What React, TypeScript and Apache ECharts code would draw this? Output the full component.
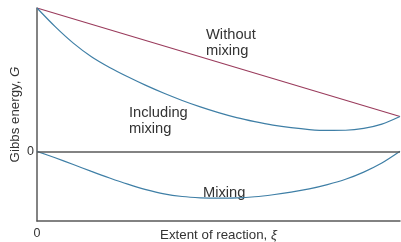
import React, { useEffect, useRef } from "react";
import * as echarts from "echarts";

const xi = [0, 0.05, 0.1, 0.15, 0.2, 0.25, 0.3, 0.35, 0.4, 0.45, 0.5, 0.55, 0.6, 0.65, 0.7, 0.75, 0.8, 0.85, 0.9, 0.95, 1];
const withoutXi = [0, 1];
const withoutMixing = [10, 2.43];
const includingMixing = [10, 8.7, 7.55, 6.6, 5.85, 5.2, 4.6, 4.05, 3.55, 3.1, 2.7, 2.35, 2.07, 1.83, 1.65, 1.52, 1.46, 1.47, 1.6, 1.9, 2.43];
const mixing = [0, -0.45, -0.92, -1.4, -1.86, -2.29, -2.67, -2.97, -3.15, -3.24, -3.27, -3.25, -3.17, -3.03, -2.85, -2.62, -2.32, -1.95, -1.45, -0.82, 0];
const yTickLabels = [0];
const xTickLabels = [0];

const FONT = "'Liberation Sans', Arial, sans-serif";
const BLUE = "#3f7fa6";
const MAROON = "#9a3b5c";
const AXIS = "#5a5a5a";
const TEXT = "#333333";
const NAME_SIZE = 13.3;

export default function App() {
  const ref = useRef<HTMLDivElement>(null);
  useEffect(() => {
    if (!ref.current) return;
    const chart = echarts.init(ref.current, null, { renderer: "svg" });
    const pairs = (xs: number[], ys: number[]) => xs.map((x, i) => [x, ys[i]]);
    const labelStyle = { fontFamily: FONT, fontSize: 14.7, lineHeight: 16, fill: TEXT };
    chart.setOption({
      animation: false,
      grid: { left: 37, right: 1, top: 8, bottom: 21, outerBoundsMode: "none", containLabel: false },
      xAxis: {
        type: "value",
        min: 0,
        max: 1,
        name: "Extent of reaction, {i|ξ}",
        nameLocation: "middle",
        nameGap: 7,
        nameMoveOverlap: false,
        nameTextStyle: {
          fontFamily: FONT,
          fontSize: NAME_SIZE,
          color: TEXT,
          verticalAlign: "top",
          rich: { i: { fontStyle: "italic", fontFamily: FONT, fontSize: NAME_SIZE, color: TEXT } },
        },
        axisLine: { show: true, onZero: false, lineStyle: { color: AXIS, width: 1.5 } },
        axisTick: { show: false },
        splitLine: { show: false },
        axisLabel: {
          customValues: xTickLabels,
          fontFamily: FONT,
          fontSize: 12.5,
          color: TEXT,
          margin: 5,
        },
      },
      yAxis: {
        type: "value",
        min: -4.86,
        max: 10,
        name: "Gibbs energy, {i|G}",
        nameLocation: "middle",
        nameGap: 16,
        nameMoveOverlap: false,
        nameTextStyle: {
          fontFamily: FONT,
          fontSize: NAME_SIZE,
          color: TEXT,
          rich: { i: { fontStyle: "italic", fontFamily: FONT, fontSize: NAME_SIZE, color: TEXT } },
        },
        axisLine: { show: true, onZero: false, lineStyle: { color: AXIS, width: 1.5 } },
        axisTick: { show: false },
        splitLine: { show: false },
        axisLabel: {
          customValues: yTickLabels,
          fontFamily: FONT,
          fontSize: 12.5,
          color: TEXT,
          margin: 3,
        },
      },
      series: [
        {
          type: "line",
          data: pairs(withoutXi, withoutMixing),
          showSymbol: false,
          lineStyle: { color: MAROON, width: 1.2 },
          silent: true,
        },
        {
          type: "line",
          data: pairs(xi, includingMixing),
          smooth: 0.3,
          showSymbol: false,
          lineStyle: { color: BLUE, width: 1.2 },
          silent: true,
        },
        {
          type: "line",
          data: pairs(xi, mixing),
          smooth: 0.3,
          showSymbol: false,
          lineStyle: { color: BLUE, width: 1.2 },
          silent: true,
          markLine: {
            silent: true,
            symbol: "none",
            label: { show: false },
            lineStyle: { color: AXIS, width: 1.5, type: "solid" },
            data: [{ yAxis: 0 }],
          },
        },
      ],
      graphic: [
        { type: "text", left: 206, top: 26, style: { text: "Without\nmixing", ...labelStyle } },
        { type: "text", left: 129, top: 104, style: { text: "Including\nmixing", ...labelStyle } },
        { type: "text", left: 203, top: 184, style: { text: "Mixing", ...labelStyle } },
      ],
    });
    return () => chart.dispose();
  }, []);
  return <div ref={ref} style={{ position: "fixed", left: 0, top: 0, width: 401, height: 242 }} />;
}
